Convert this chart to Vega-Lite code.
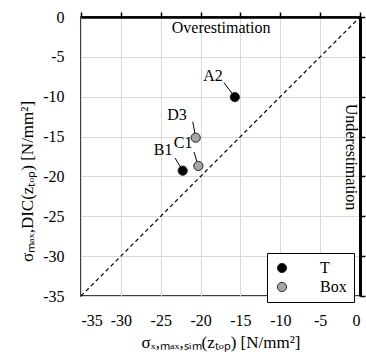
{
  "$schema": "https://vega.github.io/schema/vega-lite/v6.json",
  "width": 279,
  "height": 279,
  "autosize": "none",
  "padding": {"left": 81, "top": 17, "right": 6, "bottom": 64},
  "background": "white",
  "config": {
    "font": "Liberation Serif",
    "view": {"stroke": "black", "strokeWidth": 1.5},
    "axis": {"labelColor": "black", "titleColor": "black", "titleFontWeight": "normal", "labelFont": "Liberation Serif", "titleFont": "Liberation Serif"},
    "text": {"font": "Liberation Serif"}
  },
  "datasets": {
    "diag": [{"x": -35, "y": -35, "x2": 0, "y2": 0}],
    "pts": [
      {"name": "A2", "type": "T", "sim": -15.7, "dic": -10.05, "lx": -17.06, "ly": -8.24, "tx": -18.44, "ty": -7.4},
      {"name": "B1", "type": "T", "sim": -22.24, "dic": -19.28, "lx": -23.2, "ly": -17.69, "tx": -24.7, "ty": -16.7},
      {"name": "D3", "type": "Box", "sim": -20.61, "dic": -15.14, "lx": -20.98, "ly": -13.14, "tx": -22.95, "ty": -12.3},
      {"name": "C1", "type": "Box", "sim": -20.28, "dic": -18.69, "lx": -20.82, "ly": -16.94, "tx": -22.2, "ty": -15.8}
    ],
    "notes": [
      {"text": "Overestimation", "x": -17.43, "y": -1.38, "angle": 0},
      {"text": "Underestimation", "x": -1.15, "y": -17.56, "angle": 90}
    ]
  },
  "resolve": {"axis": {"x": "independent", "y": "independent"}},
  "layer": [
    {
      "data": {"name": "diag"},
      "mark": {"type": "rule", "color": "black", "strokeWidth": 1.2, "strokeDash": [4, 3]},
      "encoding": {
        "x": {"field": "x", "type": "quantitative", "scale": {"domain": [-35, 0], "nice": false, "zero": false},
          "axis": {"orient": "bottom", "values": [-35, -30, -25, -20, -15, -10, -5, 0], "ticks": false, "domain": false,
            "grid": true, "gridColor": "#d9d9d9", "gridWidth": 1, "labelFontSize": 16, "labelPadding": 16, "labelFont": "Liberation Serif",
            "labelExpr": "replace(datum.label, '−', '-')",
            "title": "σₓ,ₘₐₓ,ₛᵢₘ(zₜₒₚ) [N/mm²]", "titleFont": "Liberation Serif", "titleFontSize": 17, "titlePadding": 6}},
        "y": {"field": "y", "type": "quantitative", "scale": {"domain": [-35, 0], "nice": false, "zero": false},
          "axis": {"orient": "left", "values": [-35, -30, -25, -20, -15, -10, -5, 0], "ticks": false, "domain": false,
            "grid": true, "gridColor": "#d9d9d9", "gridWidth": 1, "labelFontSize": 16, "labelPadding": 17, "labelFont": "Liberation Serif",
            "labelExpr": "replace(datum.label, '−', '-')",
            "title": "σₘₐₓ,DIC(zₜₒₚ) [N/mm²]", "titleFont": "Liberation Serif", "titleFontSize": 17, "titlePadding": 6, "titleY": 164}},
        "x2": {"field": "x2"},
        "y2": {"field": "y2"}
      }
    },
    {
      "data": {"name": "pts"},
      "mark": {"type": "rule", "color": "black", "strokeWidth": 1},
      "encoding": {
        "x": {"field": "lx", "type": "quantitative", "axis": null},
        "y": {"field": "ly", "type": "quantitative", "axis": null},
        "x2": {"field": "sim"},
        "y2": {"field": "dic"}
      }
    },
    {
      "data": {"name": "pts"},
      "mark": {"type": "point", "filled": true, "size": 85, "stroke": "#262626", "strokeWidth": 1, "opacity": 1},
      "encoding": {
        "x": {"field": "sim", "type": "quantitative",
          "axis": {"orient": "top", "values": [-35, -30, -25, -20, -15, -10, -5, 0], "labels": false, "ticks": true, "tickSize": 5,
            "tickColor": "black", "tickWidth": 1.5, "domain": true, "domainColor": "black", "domainWidth": 2.5, "grid": false, "title": null}},
        "y": {"field": "dic", "type": "quantitative",
          "axis": {"orient": "right", "values": [-35, -30, -25, -20, -15, -10, -5, 0], "labels": false, "ticks": true, "tickSize": 5,
            "tickColor": "black", "tickWidth": 1.5, "domain": true, "domainColor": "black", "domainWidth": 3, "grid": false, "title": null}},
        "fill": {"field": "type", "type": "nominal", "scale": {"domain": ["T", "Box"], "range": ["#000000", "#a6a6a6"]},
          "legend": {"title": null, "orient": "none", "legendX": 186, "legendY": 236, "strokeColor": "black", "fillColor": "white",
            "padding": 7, "symbolType": "circle", "symbolSize": 85, "symbolStrokeColor": "#262626", "symbolStrokeWidth": 1,
            "labelFontSize": 16, "labelColor": "black", "labelOffset": 30, "rowPadding": 3, "labelFont": "Liberation Serif"}}
      }
    },
    {
      "data": {"name": "pts"},
      "mark": {"type": "text", "fontSize": 16, "color": "black", "align": "center", "baseline": "middle", "font": "Liberation Serif"},
      "encoding": {
        "x": {"field": "tx", "type": "quantitative", "axis": null},
        "y": {"field": "ty", "type": "quantitative", "axis": null},
        "text": {"field": "name"}
      }
    },
    {
      "data": {"name": "notes"},
      "mark": {"type": "text", "fontSize": 16, "color": "black", "align": "center", "baseline": "middle", "font": "Liberation Serif"},
      "encoding": {
        "x": {"field": "x", "type": "quantitative", "axis": null},
        "y": {"field": "y", "type": "quantitative", "axis": null},
        "text": {"field": "text"},
        "angle": {"field": "angle", "type": "quantitative", "scale": null}
      }
    }
  ]
}
